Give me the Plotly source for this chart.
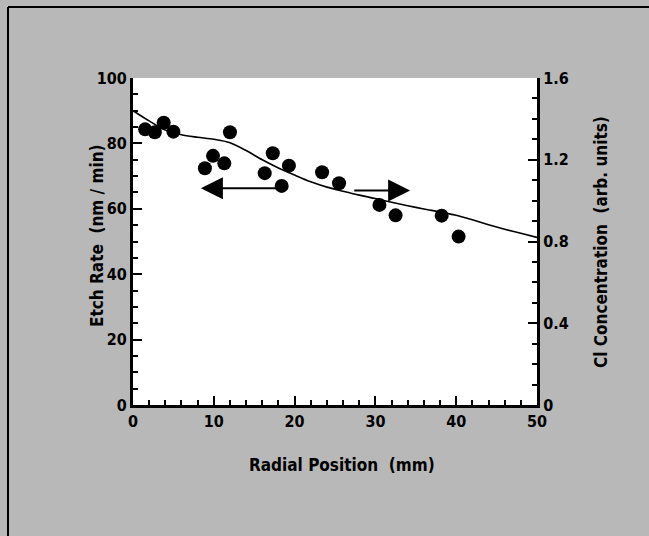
import plotly.graph_objects as go

# Etch rate data (left axis)
rad_pos = [1.5, 2.7, 3.8, 5.0, 8.9, 9.9, 11.3, 12.0, 16.3, 17.3, 18.4, 19.3, 23.4, 25.5, 30.5, 32.5, 38.2, 40.3]
etch_rate = [84.3, 83.4, 86.3, 83.6, 72.4, 76.2, 73.9, 83.4, 70.9, 77.0, 67.0, 73.2, 71.2, 67.8, 61.2, 58.0, 57.9, 51.5]

# Cl concentration curve (right axis)
cl_x = [0, 2, 4, 6, 8, 10, 12, 14, 16, 18, 20, 22, 24, 26, 28, 30, 32, 34, 36, 38, 40, 42, 44, 46, 48, 50]
cl_conc = [1.44, 1.39, 1.345, 1.322, 1.31, 1.30, 1.283, 1.245, 1.20, 1.16, 1.125, 1.092, 1.066, 1.046,
           1.027, 1.01, 0.992, 0.975, 0.959, 0.945, 0.928, 0.906, 0.882, 0.86, 0.84, 0.82]

x_ticks = [0, 10, 20, 30, 40, 50]
y_ticks = [0, 20, 40, 60, 80, 100]
y2_ticks = [0, 0.4, 0.8, 1.2, 1.6]
y2_labels = ["0", "0.4", "0.8", "1.2", "1.6"]

# arrows: (tail_x, head_x, y) in left-axis data units
left_arrow = (18.4, 8.4, 66.3)
right_arrow = (27.2, 34.3, 65.6)

FONT = "DejaVu Sans Condensed, Liberation Sans Narrow, Arial Narrow, sans-serif"
BG = "#b8b8b8"
W, H = 649, 536
ML, MR, MT, MB = 133, 112, 78, 131
PW, PH = W - ML - MR, H - MT - MB


def px_x(p):
    return (p - ML) / PW


def px_y(p):
    return (H - MB - p) / PH


fig = go.Figure()
fig.add_trace(go.Scatter(x=cl_x, y=cl_conc, mode="lines", yaxis="y2",
                         line=dict(color="black", width=1.6, shape="spline", smoothing=0.8),
                         showlegend=False, hoverinfo="skip"))
fig.add_trace(go.Scatter(x=rad_pos, y=etch_rate, mode="markers",
                         marker=dict(color="black", size=14),
                         showlegend=False))

tickfont = dict(family=FONT, size=16, color="black", weight="bold")
titlefont = dict(family=FONT, size=17, color="black", weight="bold")

common = dict(ticks="inside", ticklen=9, tickwidth=1.5, tickcolor="black",
              showline=True, linecolor="black", linewidth=3,
              showgrid=False, zeroline=False, tickfont=tickfont)

fig.update_layout(
    width=W, height=H,
    margin=dict(l=ML, r=MR, t=MT, b=MB),
    paper_bgcolor=BG, plot_bgcolor="white",
    xaxis=dict(range=[0, 50], tickvals=x_ticks, ticktext=[str(v) for v in x_ticks],
               minor=dict(dtick=2, ticks="inside", ticklen=5, tickwidth=1.5, tickcolor="black"),
               **common),
    yaxis=dict(range=[0, 100], tickvals=y_ticks, ticktext=[str(v) for v in y_ticks],
               minor=dict(dtick=5, ticks="inside", ticklen=5, tickwidth=1.5, tickcolor="black"),
               **common),
    yaxis2=dict(range=[0, 1.6], tickvals=y2_ticks, ticktext=y2_labels, overlaying="y", side="right",
                minor=dict(dtick=0.1, ticks="inside", ticklen=5, tickwidth=1.5, tickcolor="black"),
                **common),
)

# axis titles as annotations
fig.add_annotation(text="Radial Position  (mm)", xref="paper", yref="paper",
                   x=px_x(342), y=px_y(465), xanchor="center", yanchor="middle",
                   showarrow=False, font=titlefont)
fig.add_annotation(text="Etch Rate  (nm / min)", xref="paper", yref="paper",
                   x=px_x(97), y=px_y(236), xanchor="center", yanchor="middle",
                   showarrow=False, font=titlefont, textangle=-90)
fig.add_annotation(text="Cl Concentration  (arb. units)", xref="paper", yref="paper",
                   x=px_x(601), y=px_y(242), xanchor="center", yanchor="middle",
                   showarrow=False, font=titlefont, textangle=-90)

for tail_x, head_x, yv in (left_arrow, right_arrow):
    fig.add_annotation(x=head_x, y=yv, ax=tail_x, ay=yv, xref="x", yref="y", axref="x", ayref="y",
                       text="", showarrow=True, arrowhead=2, arrowsize=2.2, arrowwidth=2,
                       arrowcolor="black")

# outer frame lines (top and left)
fig.add_shape(type="line", xref="paper", yref="paper", x0=px_x(8), x1=px_x(649), y0=px_y(7), y1=px_y(7),
              line=dict(color="black", width=2))
fig.add_shape(type="line", xref="paper", yref="paper", x0=px_x(8), x1=px_x(8), y0=px_y(536), y1=px_y(7),
              line=dict(color="black", width=2))

fig.write_html("out.html", config={"displayModeBar": False},
               post_script="document.body.style.margin='0';document.body.style.overflow='hidden';"
                           "document.documentElement.style.overflow='hidden';")
